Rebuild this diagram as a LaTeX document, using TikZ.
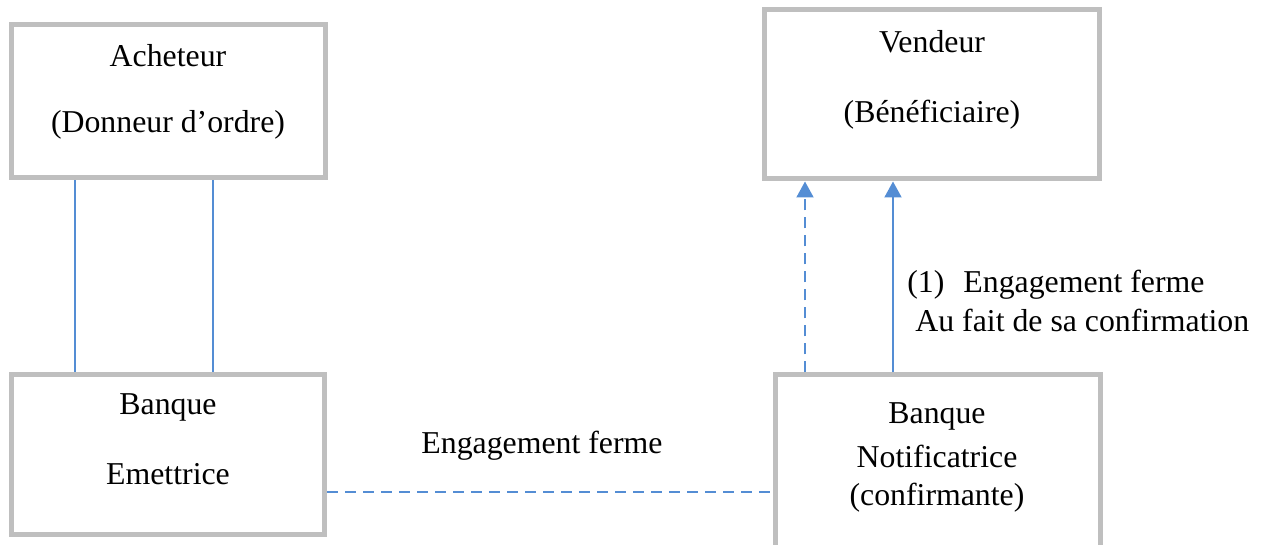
\documentclass[tikz,border=0pt]{standalone}
\usepackage{fontspec}
\setmainfont{Liberation Serif}
\usetikzlibrary{arrows.meta}
\definecolor{boxgray}{RGB}{191,191,191}
\definecolor{linkblue}{RGB}{84,141,212}
\begin{document}
\begin{tikzpicture}[x=0.5pt,y=-0.5pt,
  box/.style={draw=boxgray, line width=2.5pt, fill=white, inner sep=0pt},
  label/.style={inner sep=0pt, anchor=base, font=\fontsize{15.9pt}{19pt}\selectfont},
  link/.style={draw=linkblue, line width=1pt},
  dashlink/.style={link, dash pattern=on 5.5pt off 3.5pt},
  tip/.style={-{Triangle[width=8.5pt,length=8pt]}}]
\useasboundingbox (0,0) rectangle (1265,545);

% parties and banks
\node[box, minimum width=157pt, minimum height=76.5pt] (acheteur) at (168,101.5) {};
\node[box, minimum width=156.5pt, minimum height=79.5pt] (emettrice) at (168,454.5) {};
\node[box, minimum width=167.5pt, minimum height=84.75pt] (vendeur) at (932,94.25) {};
\node[box, minimum width=162.5pt, minimum height=87.5pt] (notif) at (937.5,462.5) {};

% box texts
\node[label] (t1) at (168,67) {Acheteur};
\node[label] (t2) at (168,133) {(Donneur d’ordre)};
\node[label] (t3) at (932,53) {Vendeur};
\node[label] (t4) at (932,123) {(Bénéficiaire)};
\node[label] (t5) at (168,415) {Banque};
\node[label] (t6) at (168,485) {Emettrice};
\node[label] (t7) at (937,423) {Banque};
\node[label] (t8) at (937,467) {Notificatrice};
\node[label] (t9) at (937,505) {(confirmante)};

% connector guides
\coordinate (lx1) at (75,0);
\coordinate (lx2) at (213,0);
\coordinate (ax1) at (805,0);
\coordinate (ax2) at (893,0);
\coordinate (hy) at (0,492);

% buyer -- issuing bank
\draw[link] (acheteur.south -| lx1) -- (emettrice.north -| lx1);
\draw[link] (acheteur.south -| lx2) -- (emettrice.north -| lx2);

% issuing bank -- notifying bank
\draw[dashlink] (emettrice.east |- hy) -- (notif.west |- hy);
\node[label] (eng) at (542,453) {Engagement ferme};

% notifying bank -> seller
\draw[dashlink, tip] (notif.north -| ax1) -- (vendeur.south -| ax1);
\draw[link, tip] (notif.north -| ax2) -- (vendeur.south -| ax2);
\node[label, anchor=base west] (conf1) at (907,293) {(1)\hspace{9.5pt}Engagement ferme};
\node[label, anchor=base west] (conf2) at (915,332) {Au fait de sa confirmation};
\end{tikzpicture}
\end{document}
